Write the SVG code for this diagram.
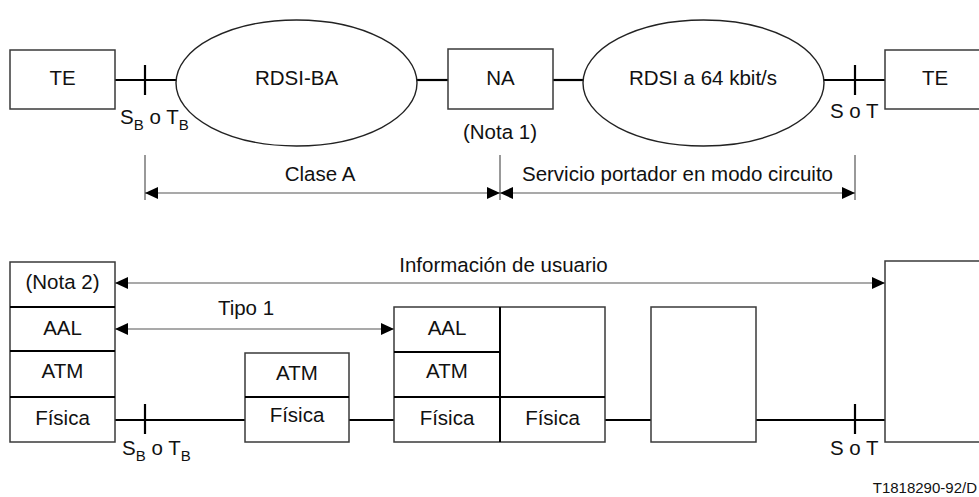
<svg xmlns="http://www.w3.org/2000/svg" width="979" height="497" viewBox="0 0 979 497">
  <style>
    text { font-family: "Liberation Sans", Arial, sans-serif; font-size: 20.5px; fill: #111; }
    .mid { text-anchor: middle; }
    .box { fill: #fff; stroke: #3a3a3a; stroke-width: 1.5; }
    .div { stroke: #000; stroke-width: 2; }
    .link { stroke: #000; stroke-width: 2.2; fill: none; }
    .net { fill: #fff; stroke: #222; stroke-width: 1.4; }
    .dim { stroke: #555; stroke-width: 1.2; fill: none; }
    .sub { font-size: 15px; }
    .ref { font-size: 15px; }
  </style>
  <defs>
    <marker id="ah" viewBox="0 0 13 12" refX="13" refY="6" markerWidth="13" markerHeight="12" markerUnits="userSpaceOnUse" orient="auto-start-reverse">
      <path d="M0,0 L13,6 L0,12 z" fill="#000"/>
    </marker>
  </defs>

  <!-- Connectors -->
  <g id="connectors">
    <!-- upper chain -->
    <line class="link" x1="115" y1="80" x2="176" y2="80"/>
    <line class="link" x1="145" y1="65" x2="145" y2="95"/>
    <line class="link" x1="417" y1="80" x2="448" y2="80"/>
    <line class="link" x1="553" y1="80" x2="583" y2="80"/>
    <line class="link" x1="824" y1="80" x2="885" y2="80"/>
    <line class="link" x1="855" y1="65" x2="855" y2="95"/>
    <!-- dimension lines -->
    <line class="dim" x1="145" y1="155" x2="145" y2="200"/>
    <line class="dim" x1="500" y1="155" x2="500" y2="200"/>
    <line class="dim" x1="855" y1="155" x2="855" y2="200"/>
    <line class="dim" x1="145" y1="193" x2="500" y2="193" marker-start="url(#ah)" marker-end="url(#ah)"/>
    <line class="dim" x1="500" y1="193" x2="855" y2="193" marker-start="url(#ah)" marker-end="url(#ah)"/>
    <!-- lower chain -->
    <line class="link" x1="115" y1="420" x2="245" y2="420"/>
    <line class="link" x1="145" y1="404" x2="145" y2="434"/>
    <line class="link" x1="349" y1="420" x2="394" y2="420"/>
    <line class="link" x1="605" y1="420" x2="651" y2="420"/>
    <line class="link" x1="756" y1="420" x2="885" y2="420"/>
    <line class="link" x1="855" y1="404" x2="855" y2="434"/>
    <!-- peer relations -->
    <line class="dim" x1="115" y1="283" x2="885" y2="283" marker-start="url(#ah)" marker-end="url(#ah)"/>
    <line class="dim" x1="115" y1="329" x2="394" y2="329" marker-start="url(#ah)" marker-end="url(#ah)"/>
  </g>

  <!-- Upper configuration -->
  <g id="te-left">
    <rect class="box" x="10" y="50" width="105" height="59"/>
    <text class="mid" x="62.5" y="85">TE</text>
  </g>
  <g id="rdsi-ba">
    <ellipse class="net" cx="296.5" cy="83" rx="120.5" ry="63"/>
    <text class="mid" x="296.5" y="85">RDSI-BA</text>
  </g>
  <g id="na">
    <rect class="box" x="448" y="49" width="105" height="60"/>
    <text class="mid" x="500.5" y="85">NA</text>
    <text class="mid" x="500" y="139">(Nota 1)</text>
  </g>
  <g id="rdsi-64">
    <ellipse class="net" cx="703.5" cy="83" rx="120.5" ry="63"/>
    <text class="mid" x="703" y="85">RDSI a 64 kbit/s</text>
  </g>
  <g id="te-right">
    <rect class="box" x="885" y="50" width="110" height="59"/>
    <text class="mid" x="935" y="85">TE</text>
  </g>
  <g id="ref-points-top">
    <text x="120" y="124">S<tspan class="sub" dy="6">B</tspan><tspan dy="-6"> o T</tspan><tspan class="sub" dy="6">B</tspan></text>
    <text x="830" y="118">S o T</text>
  </g>
  <g id="dim-labels">
    <text class="mid" x="320" y="181">Clase A</text>
    <text class="mid" x="677.5" y="181">Servicio portador en modo circuito</text>
  </g>

  <!-- Lower protocol stacks -->
  <g id="stack-te">
    <rect class="box" x="10" y="262" width="105" height="180"/>
    <line class="div" x1="10" y1="307" x2="115" y2="307"/>
    <line class="div" x1="10" y1="351" x2="115" y2="351"/>
    <line class="div" x1="10" y1="397" x2="115" y2="397"/>
    <text class="mid" x="62.5" y="289">(Nota 2)</text>
    <text class="mid" x="62.5" y="335">AAL</text>
    <text class="mid" x="62.5" y="378">ATM</text>
    <text class="mid" x="62.5" y="425">Física</text>
  </g>
  <g id="stack-switch">
    <rect class="box" x="245" y="353" width="104" height="89"/>
    <line class="div" x1="245" y1="397" x2="349" y2="397"/>
    <text class="mid" x="297" y="380">ATM</text>
    <text class="mid" x="297" y="422">Física</text>
  </g>
  <g id="stack-na">
    <rect class="box" x="394" y="307" width="211" height="135"/>
    <line class="div" x1="500" y1="307" x2="500" y2="442"/>
    <line class="div" x1="394" y1="352" x2="500" y2="352"/>
    <line class="div" x1="394" y1="397" x2="605" y2="397"/>
    <text class="mid" x="447" y="335">AAL</text>
    <text class="mid" x="447" y="378">ATM</text>
    <text class="mid" x="447" y="425">Física</text>
    <text class="mid" x="552.5" y="425">Física</text>
  </g>
  <g id="node-64k">
    <rect class="box" x="651" y="307" width="105" height="135"/>
  </g>
  <g id="stack-te-right">
    <rect class="box" x="885" y="261" width="110" height="181"/>
  </g>
  <g id="labels-bottom">
    <text class="mid" x="503.5" y="272">Información de usuario</text>
    <text class="mid" x="246" y="315">Tipo 1</text>
    <text x="122" y="455">S<tspan class="sub" dy="6">B</tspan><tspan dy="-6"> o T</tspan><tspan class="sub" dy="6">B</tspan></text>
    <text x="830" y="455">S o T</text>
  </g>
  <text class="ref" x="977" y="493" text-anchor="end">T1818290-92/D</text>
</svg>
